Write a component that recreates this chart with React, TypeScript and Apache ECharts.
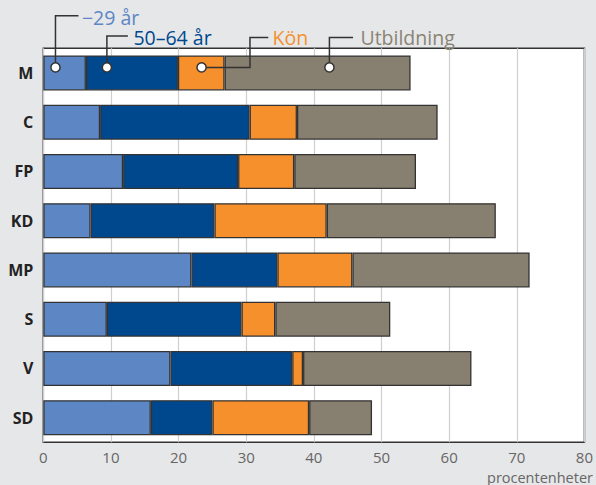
import React, { useEffect, useRef } from "react";
import * as echarts from "echarts";

const categories = ["M", "C", "FP", "KD", "MP", "S", "V", "SD"];
const seriesNames = ["−29 år", "50–64 år", "Kön", "Utbildning"];
const young = [6.3, 8.4, 11.8, 7.0, 21.9, 9.4, 18.8, 15.9];
const old = [13.6, 22.1, 17.0, 18.3, 12.7, 19.9, 18.0, 9.1];
const gender = [6.9, 7.0, 8.3, 16.6, 11.1, 5.0, 1.6, 14.3];
const education = [27.5, 20.8, 18.0, 25.0, 26.2, 17.0, 24.9, 9.3];
const xTicks = [0, 10, 20, 30, 40, 50, 60, 70, 80];
const axisTitle = "procentenheter";
// legend anchor positions (value along M bar)
const legendAnchors = [1.8, 9.4, 23.4, 42.3];

const colors = ["#5c86c4", "#00488e", "#f5902d", "#877f6f"];
const textColors = ["#5c86c4", "#00488e", "#f5902d", "#8b8374"];
const FONT = "'Open Sans', 'Noto Sans', sans-serif";

export default function App() {
  const ref = useRef<HTMLDivElement>(null);
  useEffect(() => {
    const chart = echarts.init(ref.current!, null, { renderer: "svg" });
    const data = [young, old, gender, education];
    chart.setOption({
      animation: false,
      backgroundColor: "#e6e7e9",
      grid: {
        left: 43.3,
        right: 9.5,
        top: 48.3,
        bottom: 42.7,
        show: true,
        backgroundColor: "#ffffff",
        borderColor: "#333333",
        borderWidth: 1.5,
      },
      xAxis: {
        type: "value",
        min: xTicks[0],
        max: xTicks[xTicks.length - 1],
        interval: 10,
        axisLine: { show: false },
        axisTick: { show: false },
        splitLine: { show: true, lineStyle: { color: "#cfcfcf", width: 1.2 } },
        axisLabel: {
          color: "#666666",
          fontFamily: FONT,
          fontSize: 15,
          margin: 7,
          showMaxLabel: true,
          showMinLabel: true,
        },
      },
      yAxis: {
        type: "category",
        data: categories,
        inverse: true,
        axisLine: { show: false },
        axisTick: { show: false },
        splitLine: { show: false },
        axisLabel: {
          color: "#222222",
          fontFamily: FONT,
          fontWeight: "bold",
          fontSize: 16,
          margin: 10,
          padding: [3, 0, 0, 0],
        },
      },
      series: data.map((d, i) => ({
        type: "bar",
        name: seriesNames[i],
        stack: "total",
        data: d,
        barWidth: 35,
        itemStyle: { color: colors[i], borderColor: "#333333", borderWidth: 1.3 },
      })),
    });

    const px = legendAnchors.map((v) => chart.convertToPixel({ gridIndex: 0 }, [v, 0]) as number[]);
    const lineStyle = { stroke: "#333333", lineWidth: 1.5, fill: "none" };
    const row1 = 15.7;
    const row2 = 36;
    const cy = px[0][1] - 5.5;
    const labelStyle = (i: number, x: number, y: number) => ({
      type: "text",
      x,
      y,
      style: {
        text: seriesNames[i],
        fill: textColors[i],
        font: `19.5px ${FONT}`,
        verticalAlign: "middle",
        align: "left",
      },
      z: 10,
    });
    const elements: any[] = [];
    // −29 år
    elements.push({ type: "polyline", shape: { points: [[px[0][0], cy], [px[0][0], row1], [px[0][0] + 23, row1]] }, style: lineStyle, z: 10 });
    elements.push(labelStyle(0, px[0][0] + 26.5, row1 + 1.5));
    // 50–64 år
    elements.push({ type: "polyline", shape: { points: [[px[1][0], cy], [px[1][0], row2], [px[1][0] + 21, row2]] }, style: lineStyle, z: 10 });
    elements.push(labelStyle(1, px[1][0] + 26.5, row2 + 1.5));
    // Kön
    elements.push({ type: "polyline", shape: { points: [[px[2][0], cy], [px[2][0] + 48.4, cy], [px[2][0] + 48.4, row2 + 1.5], [px[2][0] + 66.7, row2 + 1.5]] }, style: lineStyle, z: 10 });
    elements.push(labelStyle(2, px[2][0] + 71, row2 + 1.5));
    // Utbildning
    elements.push({ type: "polyline", shape: { points: [[px[3][0], cy], [px[3][0], row2 + 1.5], [px[3][0] + 23.6, row2 + 1.5]] }, style: lineStyle, z: 10 });
    elements.push(labelStyle(3, px[3][0] + 31, row2 + 1.5));
    // circles
    px.forEach((p) => {
      elements.push({ type: "circle", shape: { cx: p[0], cy, r: 4.6 }, style: { fill: "#ffffff", stroke: "#333333", lineWidth: 1.5 }, z: 11 });
    });
    // axis title
    elements.push({
      type: "text",
      x: 593,
      y: 477,
      style: { text: axisTitle, fill: "#666666", font: `14.5px ${FONT}`, align: "right", verticalAlign: "middle" },
      z: 10,
    });
    chart.setOption({ graphic: { elements } });

    return () => chart.dispose();
  }, []);
  return <div ref={ref} style={{ position: "fixed", left: 0, top: 0, width: 596, height: 485 }} />;
}
